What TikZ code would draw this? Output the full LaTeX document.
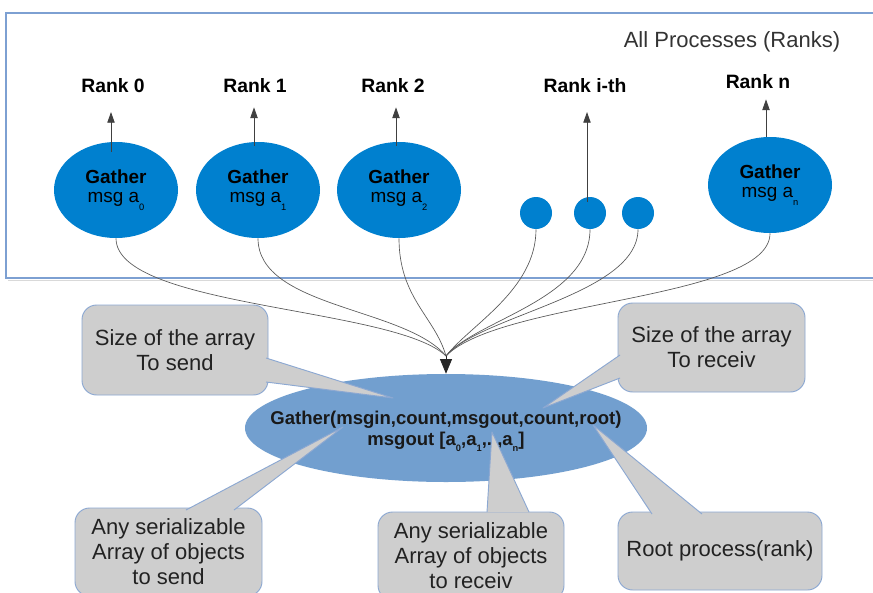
\documentclass[tikz,border=0pt]{standalone}
\usepackage{fontspec}
\setmainfont{Liberation Sans}
\usetikzlibrary{arrows.meta,shapes.geometric}
\definecolor{procblue}{RGB}{0,128,207}
\definecolor{mainblue}{RGB}{114,159,207}
\definecolor{framecol}{RGB}{125,160,210}
\definecolor{callgray}{RGB}{206,206,206}
\definecolor{calledge}{RGB}{140,168,210}
\definecolor{txtgray}{RGB}{34,34,34}
\newcommand\lowsub[3]{\raisebox{#1}{\fontsize{#2}{#2}\selectfont #3}}
\begin{document}
\begin{tikzpicture}[x=0.75pt,y=-0.75pt,
  proc/.style={ellipse, fill=procblue, minimum width=93pt, minimum height=72pt, inner sep=0pt, align=center, font=\fontsize{14.2}{14.6}\selectfont},
  dotnode/.style={circle, fill=procblue, minimum size=24pt, inner sep=0pt},
  ranklbl/.style={font=\bfseries\fontsize{14.5}{16}\selectfont, inner sep=0pt},
  uparr/.style={draw=black!75, line width=0.6pt, -{Triangle[length=8pt,width=5.5pt]}},
  flow/.style={draw=black!65, line width=0.5pt},
  callbox/.style={rectangle, rounded corners=11pt, fill=callgray, draw=calledge, line width=0.7pt, align=center, inner sep=0pt, font=\fontsize{16.5}{18.75}\selectfont, text=txtgray},
  ptr/.style={fill=callgray, draw=calledge, line width=0.7pt, line join=round},
]
\useasboundingbox (0,0) rectangle (873,592);
\fill[white] (0,0) rectangle (873,592);

% frame
\draw[black!15, line width=1pt] (8,280.5) -- (874,280.5);
\draw[framecol, line width=1.5pt] (874,13) -- (6,13) -- (6,278) -- (874,278);
\node[font=\fontsize{16.5}{18}\selectfont, text=black!80, inner sep=0pt] (allp) at (732,42) {All Processes (Ranks)};

% processes
\node[proc] (r0) at (116,190) {\textbf{Gather}\\msg a\lowsub{-6pt}{7}{0}};
\node[proc] (r1) at (258,190) {\textbf{Gather}\\msg a\lowsub{-6pt}{7}{1}};
\node[proc] (r2) at (399,190) {\textbf{Gather}\\msg a\lowsub{-6pt}{7}{2}};
\node[proc] (rn) at (770,185) {\textbf{Gather}\\msg a\lowsub{-6pt}{7}{n}};
\node[dotnode] (d1) at (536,213) {};
\node[dotnode] (d2) at (590,213) {};
\node[dotnode] (d3) at (638,213) {};

% rank labels
\node[ranklbl] (L0) at (113,86) {Rank 0};
\node[ranklbl] (L1) at (255,86) {Rank 1};
\node[ranklbl] (L2) at (393,86) {Rank 2};
\node[ranklbl] (Li) at (585,86) {Rank i-th};
\node[ranklbl] (Ln) at (758,82) {Rank n};

% up arrows
\draw[uparr, shorten <=-7.5pt, shorten >=14pt] ([xshift=-3.75pt]r0.north) -- ([xshift=-3.75pt]r0.north |- L0.south);
\draw[uparr, shorten <=-3pt, shorten >=10.5pt] ([xshift=-3pt]r1.north) -- ([xshift=-3pt]r1.north |- L1.south);
\draw[uparr, shorten <=-3pt, shorten >=10.5pt] ([xshift=-2.25pt]r2.north) -- ([xshift=-2.25pt]r2.north |- L2.south);
\draw[uparr, shorten <=-3.75pt, shorten >=14pt] ([xshift=-2.25pt]d2.north) -- ([xshift=-2.25pt]d2.north |- Li.south);
\draw[uparr, shorten >=7.5pt] ([xshift=-3pt]rn.north) -- ([xshift=-3pt]rn.north |- Ln.south);

% converging curves
\coordinate (conv) at (446,356);
\draw[flow] (r0.south) .. controls (116,308) and (395,307) .. (conv);
\draw[flow] (r1.south) .. controls (258,308) and (405,307) .. (conv);
\draw[flow] (r2.south) .. controls (399,298) and (435,317) .. (conv);
\draw[flow] (d1.south) .. controls (536,290) and (470,325) .. (conv);
\draw[flow] (d2.south) .. controls (590,300) and (475,320) .. (conv);
\draw[flow] (d3.south) .. controls (638,295) and (480,315) .. (conv);
\draw[flow] (rn.south) .. controls (770,300) and (500,300) .. (conv);

% main ellipse
\node[ellipse, fill=mainblue, minimum width=301.5pt, minimum height=81pt, inner sep=0pt] (main) at (446,428) {};
\node[font=\bfseries\fontsize{13.9}{15.8}\selectfont, align=center, inner sep=0pt, text=black!90] (maintext) at (446,431)
  {Gather(msgin,count,msgout,count,root)\\msgout [a\lowsub{-4.5pt}{7}{0},a\lowsub{-4.5pt}{7}{1},..,a\lowsub{-4.5pt}{7}{n}]};
\draw[black!85, line width=0.6pt, -{Triangle[length=11pt,width=9pt]}] (conv) -- (main.north);

% callouts
\node[callbox, minimum width=139.5pt, minimum height=67.5pt] (c1) at (175,350) {Size of the array\\To send};
\path[ptr] (266,358) -- (393,398) -- (266,382);
\node[callbox, minimum width=140.25pt, minimum height=66.75pt] (c2) at (711.5,347.5) {Size of the array\\To receiv};
\path[ptr] (620,355) -- (543,408) -- (620,378);
\node[callbox, minimum width=140.25pt, minimum height=66pt] (c3) at (168.5,552) {Any serializable\\Array of objects\\to send};
\path[ptr] (186,510) -- (343,427) -- (234,510);
\node[callbox, minimum width=139.5pt, minimum height=66pt] (c4) at (471,556) {Any serializable\\Array of objects\\to receiv};
\path[ptr] (487,512) -- (492,432) -- (529,512);
\node[callbox, minimum width=153pt, minimum height=58.5pt] (c5) at (720,551) {Root process(rank)};
\path[ptr] (652,514) -- (593,425) -- (702,514);
\end{tikzpicture}
\end{document}
